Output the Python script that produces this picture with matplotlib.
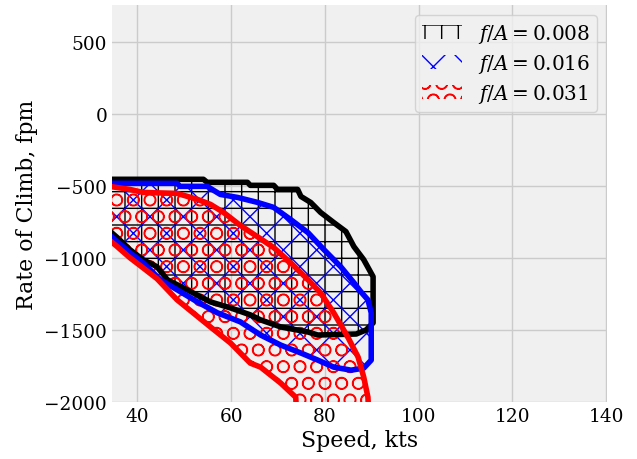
"""
Envolventes de régimen de descenso (rate of climb vs speed) para tres
valores de f/A, con relleno rayado y contorno grueso.
"""

import matplotlib
matplotlib.use("Agg")
import matplotlib.pyplot as plt

# --- datos (speed en kts, rate of climb en fpm) ---
labels = [r"$f/A = 0.008$", r"$f/A = 0.016$", r"$f/A = 0.031$"]
colors = ["black", "blue", "red"]
hatches = ["+", "x", "O"]

# f/A = 0.008
speed_008 = [34, 54.1, 54.9, 63.5, 64.1, 69.1, 69.9, 74.2, 74.9, 77.0, 79.1,
             81.9, 84.5, 86.2, 88.3, 90.3, 90.3, 88.8, 86.7, 78.5, 76.4, 70.6,
             66.3, 64.1, 59.9, 55.6, 50.6, 46.4, 44.2, 41.2, 38.4, 35.7, 34]
roc_008 = [-454, -454, -475, -475, -496, -496, -524, -524, -573, -615, -684,
           -754, -817, -921, -1012, -1130, -1451, -1500, -1528, -1535, -1514,
           -1479, -1430, -1395, -1347, -1305, -1221, -1151, -1061, -1012,
           -942, -858, -810]

# f/A = 0.016
speed_016 = [34, 48.5, 49.1, 54.9, 57.7, 61.4, 65.6, 69.1, 72.7, 76.4, 79.8,
             83.4, 86.2, 87.7, 89.2, 89.9, 89.9, 88.3, 85.6, 81.9, 78.5, 74.9,
             70.6, 66.3, 62.0, 57.1, 52.8, 48.5, 44.9, 41.2, 38.4, 35.7, 34]
roc_016 = [-482, -482, -503, -503, -559, -580, -614, -649, -733, -824, -942,
           -1061, -1172, -1235, -1291, -1381, -1709, -1765, -1779, -1758,
           -1709, -1660, -1605, -1535, -1444, -1381, -1305, -1221, -1151,
           -1033, -963, -886, -840]

# f/A = 0.031
speed_031 = [34, 38.4, 41.2, 48.5, 52.8, 55.6, 58.4, 62.0, 65.6, 69.1, 72.7,
             76.4, 79.1, 81.9, 84.9, 87.1, 88.3, 89.2, 89.4, 74.0, 73.8, 70.6,
             66.3, 64.1, 59.9, 55.6, 48.5, 44.2, 41.2, 38.4, 35.7, 34]
roc_031 = [-503, -524, -545, -552, -593, -628, -684, -775, -852, -928, -1033,
           -1151, -1242, -1381, -1549, -1688, -1827, -1967, -2100, -2100,
           -1967, -1869, -1758, -1730, -1591, -1479, -1291, -1144, -1068,
           -998, -921, -875]

speeds = [speed_008, speed_016, speed_031]
rocs = [roc_008, roc_016, roc_031]

# --- estilo ---
DPI = 100
plt.rcParams["font.family"] = "DejaVu Serif"
plt.rcParams["mathtext.fontset"] = "dejavuserif"
plt.rcParams["font.size"] = 13
plt.rcParams["hatch.linewidth"] = 1.0

fig = plt.figure(figsize=(637 / DPI, 460 / DPI), dpi=DPI)
fig.patch.set_facecolor("white")
ax = fig.add_axes([112 / 637, 57 / 460, 495 / 637, 397 / 460])
ax.set_facecolor("#f0f0f0")

for s in ax.spines.values():
    s.set_visible(False)
ax.grid(True, color="#cbcbcb", linewidth=1.0)
ax.set_axisbelow(True)
ax.tick_params(length=0, labelsize=13.3, pad=3.6)

# Relleno rayado y contorno de cada envolvente
for x, y, c, h, lab in zip(speeds, rocs, colors, hatches, labels):
    ax.fill(x, y, facecolor="none", edgecolor=c, hatch=h, linewidth=0,
            label=lab)

for x, y, c in zip(speeds, rocs, colors):
    ax.plot(x + x[:1], y + y[:1], color=c, linewidth=4,
            solid_joinstyle="round")

ax.set_xlim(34.6, 140.2)
ax.set_ylim(-2000, 756)
ax.set_xticks([40, 60, 80, 100, 120, 140])
ax.set_yticks([500, 0, -500, -1000, -1500, -2000])

ax.set_xlabel("Speed, kts", fontsize=15.8, labelpad=3)
ax.set_ylabel("Rate of Climb, fpm", fontsize=15.8, labelpad=4.3)

ax.legend(loc="upper right", fontsize=14.4, fancybox=True, framealpha=0.8,
          edgecolor="#cccccc", facecolor="#f0f0f0", borderaxespad=0.5,
          labelspacing=0.35, borderpad=0.35)

fig.savefig("out.png", dpi=DPI)
